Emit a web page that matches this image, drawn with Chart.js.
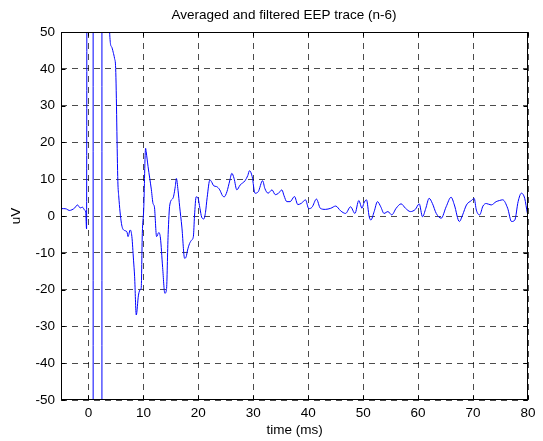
<!DOCTYPE html>
<html lang="en">
<head>
    <meta charset="UTF-8">
    <title>Averaged and filtered EEP trace</title>
    <script src="https://cdn.jsdelivr.net/npm/chart.js"></script>
    <style>
        html, body { margin: 0; padding: 0; background: #fff; }
        #wrap { width: 543px; height: 441px; }
    </style>
</head>
<body>
    <div id="wrap"><canvas id="eep"></canvas></div>

    <script>
        // time axis (ms) and averaged trace (uV)
        // the spike around 0-3 ms goes far off the scale, so those values are only rough
        const timeMs = [
            -5, -4.5, -4, -3.5, -3, -2.5, -2, -1.5, -1.1, -0.7, -0.5, -0.35,
            -0.15, 0.8, 0.9, 2.4, 2.5, 3.5, 3.8, 4.2, 4.5, 4.75, 4.95, 5.35, 5.5, 6.0, 6.4,
            7.0, 7.2, 7.6, 7.9, 8.2, 8.4, 8.7, 9.1, 9.45, 9.6, 9.8, 10.05, 10.4, 10.5,
            10.85, 11.45, 11.75, 12.0, 12.4, 12.8, 13.1, 13.5, 13.9, 14.2, 14.5, 14.8,
            15.4, 15.8, 16.0, 16.3, 16.6, 17.0, 17.5, 17.8, 18.0, 18.4, 18.8, 19.1, 19.3,
            19.6, 19.9, 20.3, 20.6, 21.0, 21.3, 21.6, 22.1, 22.4, 22.8, 23.3, 23.9, 24.4,
            24.7, 25.2, 25.7, 26.1, 26.5, 27.0, 27.6, 28.5, 29.0, 29.3, 29.8, 30.3, 30.9,
            31.7, 32.1, 32.7, 33.4, 34.0, 34.6, 35.2, 35.6, 36.1, 36.7, 37.5, 38.1, 38.8,
            39.5, 40.1, 40.7, 41.5, 42.2, 43.1, 44.1, 45.0, 45.9, 46.8, 47.7, 48.5, 49.2,
            49.8, 50.1, 50.6, 51.1, 51.4, 52.0, 52.6, 53.2, 53.8, 54.5, 55.2, 56.0, 56.9,
            57.7, 58.6, 59.5, 60.2, 60.8, 61.4, 62.0, 62.6, 63.3, 64.2, 65.1, 66.0, 66.6,
            67.5, 68.1, 68.8, 69.7, 70.2, 70.6, 71.2, 71.8, 72.4, 73.3, 74.2, 74.8, 75.4,
            76.3, 77.0, 77.6, 78.2, 78.8, 79.4, 79.9, 80.3
        ];
        const voltageUv = [
            2, 2, 1.9, 1.5, 1.7, 2.2, 3, 2.2, 2.4, 1.6, 1, -3.5,
            400, 1500, -1500, -1500, 1500, 200, 52, 46, 44.5, 42.8, 40.1, 9.3, 5.5, -2, -3.8,
            -4.3, -5.6, -3.8, -5.6, -12, -16.5, -26.9, -21.5, -20, -19.6, -4.7, 1.6, 18.4, 17.5,
            13.4, 7.1, 3.4, 2.5, -5.6, -4.5, -6, -14, -21, -20, -5, 3,
            4.9, 8, 10.2, 7, 2.5, -3, -11.5, -11, -9.5, -7.5, -6.5, -5.5, 0,
            5.2, 5, 2, -0.3, -0.8, 1, 5, 9.8, 9.3, 8.2, 8, 7.1, 5.5,
            5.2, 6.6, 9.5, 11.6, 10.2, 7.1, 8.4, 9.6, 11, 12.3, 10.7, 6.2, 6.6,
            9.6, 7.5, 6.2, 7.1, 5.8, 6.2, 7.1, 5.5, 3.9, 3.9, 5.3, 3.1, 3.5,
            4.4, 2.0, 2.4, 4.6, 2.1, 1.8, 2.1, 2.7, 1.4, 0.7, 2.5, 0.7, 4.2,
            2.1, 3.4, 4.4, -0.2, -1.1, 1.2, 3.9, 2.5, 0.7, 1.2, 0.3, 2.1, 3.3,
            2.1, 1.2, 1.8, 3.3, -0.2, 2.1, 4.8, 3.4, 0.7, -0.6, 2.5, 5.1, 3,
            -1.5, 0.3, 3.0, 4.2, 4.8, 1.6, 0.3, 2.7, 3.4, 3.0, 3.9, 4.2, 4.4,
            2.1, -1.5, -1.1, 3.9, 6.2, 4.8, 0.7, -1.1
        ];
        const xTicks = [0, 10, 20, 30, 40, 50, 60, 70, 80];
        const yTicks = [-50, -40, -30, -20, -10, 0, 10, 20, 30, 40, 50];
        const titleText = 'Averaged and filtered EEP trace (n-6)';

        const FONT = { family: "'Liberation Sans', Arial, sans-serif", size: 13.5 };

        // MATLAB style: closed box, small inward tick marks, title over the axes
        const boxPlugin = {
            id: 'box',
            afterDraw(chart) {
                const ctx = chart.ctx;
                const a = chart.chartArea;
                const xs = chart.scales.x, ys = chart.scales.y;
                ctx.save();
                ctx.strokeStyle = '#000';
                ctx.lineWidth = 1;
                ctx.setLineDash([]);
                const L = Math.round(a.left) + 0.5, R = Math.round(a.right) - 0.5;
                const T = Math.round(a.top) + 0.5, B = Math.round(a.bottom) - 0.5;
                ctx.strokeRect(L, T, R - L, B - T);
                ctx.beginPath();
                xTicks.forEach(v => {
                    const p = Math.round(xs.getPixelForValue(v)) + 0.5;
                    ctx.moveTo(p, B); ctx.lineTo(p, B - 4);
                    ctx.moveTo(p, T); ctx.lineTo(p, T + 4);
                });
                yTicks.forEach(v => {
                    const p = Math.round(ys.getPixelForValue(v)) + 0.5;
                    ctx.moveTo(L, p); ctx.lineTo(L + 4, p);
                    ctx.moveTo(R, p); ctx.lineTo(R - 4, p);
                });
                ctx.stroke();

                ctx.fillStyle = '#000';
                ctx.font = FONT.size + 'px ' + FONT.family;
                ctx.textAlign = 'center';
                ctx.textBaseline = 'middle';
                ctx.fillText(titleText, 284, 15);
                ctx.restore();
            }
        };

        const gridOpts = {
            color: 'rgba(0,0,0,0.7)',
            lineWidth: 1,
            drawTicks: false
        };

        new Chart(document.getElementById('eep'), {
            type: 'line',
            data: {
                datasets: [{
                    data: timeMs.map((t, i) => ({ x: t, y: voltageUv[i] })),
                    borderColor: '#0000ff',
                    borderWidth: 1,
                    pointRadius: 0,
                    cubicInterpolationMode: 'monotone',
                    fill: false
                }]
            },
            options: {
                responsive: true,
                maintainAspectRatio: false,
                animation: false,
                events: [],
                layout: { padding: { left: 0, right: 15, top: 32, bottom: 0 } },
                plugins: {
                    legend: { display: false },
                    tooltip: { enabled: false },
                    title: { display: false }
                },
                scales: {
                    x: {
                        type: 'linear',
                        min: -5,
                        max: 80,
                        afterBuildTicks: s => { s.ticks = xTicks.map(v => ({ value: v })); },
                        afterFit: s => { s.height = 41; },
                        ticks: { color: '#000', font: FONT, padding: 5, maxRotation: 0 },
                        grid: gridOpts,
                        border: { display: false, dash: [6, 5] },
                        title: { display: true, text: 'time (ms)', color: '#000', font: FONT, padding: { top: 0, bottom: 3 } }
                    },
                    y: {
                        min: -50,
                        max: 50,
                        afterBuildTicks: s => { s.ticks = yTicks.map(v => ({ value: v })); },
                        afterFit: s => { s.width = 61; },
                        ticks: { color: '#000', font: FONT, padding: 6 },
                        grid: gridOpts,
                        border: { display: false, dash: [6, 5] },
                        title: { display: true, text: 'uV', color: '#000', font: FONT, padding: { top: 8, bottom: 0 } }
                    }
                }
            },
            plugins: [boxPlugin]
        });
    </script>
</body>
</html>
